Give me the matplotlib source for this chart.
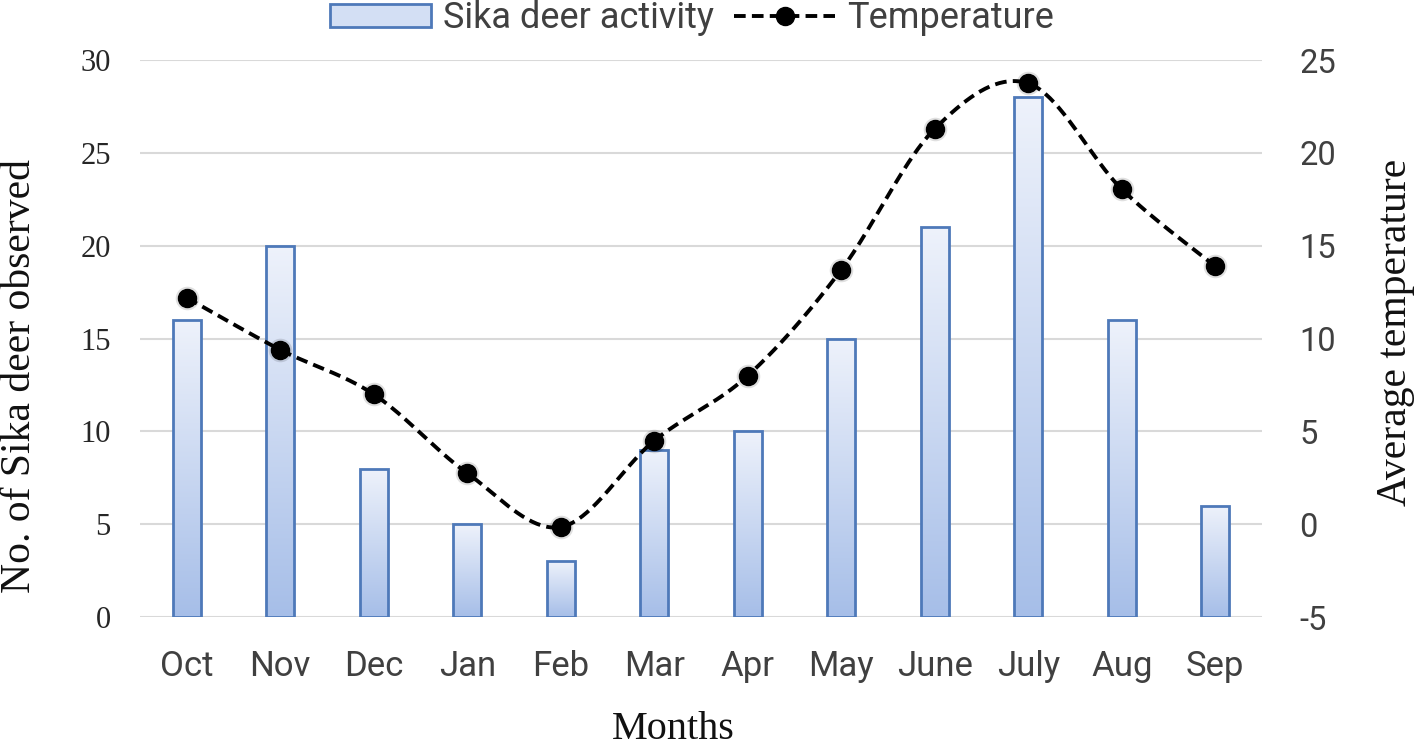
import numpy as np
import matplotlib
matplotlib.use("Agg")
import matplotlib.pyplot as plt
from matplotlib.patches import Rectangle
from matplotlib.lines import Line2D
from matplotlib.colors import LinearSegmentedColormap

months = ["Oct", "Nov", "Dec", "Jan", "Feb", "Mar", "Apr", "May", "June", "July", "Aug", "Sep"]
deer = [16, 20, 8, 5, 3, 9, 10, 15, 21, 28, 16, 6]
temperature = [12.2, 9.4, 7.0, 2.75, -0.15, 4.5, 8.0, 13.7, 21.3, 23.75, 18.05, 13.9]

serif = "Liberation Serif"
sans = "Roboto"

fig = plt.figure(figsize=(14.18, 7.52), dpi=100)
ax = fig.add_axes([0.0987, 0.1795, 0.7913, 0.7405])
ax2 = ax.twinx()

x = np.arange(len(months))
bar_w = 0.3
grad = LinearSegmentedColormap.from_list("g", ["#a6bee8", "#eef2fb"])
img = np.linspace(0, 1, 256).reshape(-1, 1)

# gradient bars
for xi, v in zip(x, deer):
    rect = Rectangle((xi - bar_w / 2, 0), bar_w, v, facecolor="none",
                     edgecolor="#4e79b9", linewidth=2.0, zorder=3)
    ax.add_patch(rect)
    im = ax.imshow(img, extent=[xi - bar_w / 2, xi + bar_w / 2, 0, v],
                   origin="lower", aspect="auto", cmap=grad, zorder=2)
    im.set_clip_path(rect)

ax.set_xlim(-0.5, len(months) - 0.5)
ax.set_ylim(0, 30)
ax.set_yticks(range(0, 31, 5))
ax.set_xticks(x)
ax.set_xticklabels(months, fontfamily=sans, fontsize=25, color="#404040")
ax.tick_params(axis="x", length=0, pad=24)
ax.tick_params(axis="y", length=0, pad=21)
for lab in ax.get_yticklabels():
    lab.set_fontfamily(serif)
    lab.set_fontsize(22)
    lab.set_color("#262626")
ax.yaxis.grid(True, color="#d9d9d9", linewidth=1.5)
ax.set_axisbelow(True)
for s in ax.spines.values():
    s.set_visible(False)

# smoothed temperature line (Excel-style bezier through the points)
pts = np.column_stack([x, temperature]).astype(float)
ext = np.vstack([pts[0], pts, pts[-1]])
curve = []
t = np.linspace(0, 1, 40)[:, None]
for i in range(len(pts) - 1):
    p0, p3 = ext[i + 1], ext[i + 2]
    p1 = p0 + (ext[i + 2] - ext[i]) / 6
    p2 = p3 - (ext[i + 3] - ext[i + 1]) / 6
    seg = ((1 - t) ** 3) * p0 + 3 * ((1 - t) ** 2) * t * p1 + 3 * (1 - t) * t ** 2 * p2 + t ** 3 * p3
    curve.append(seg if i == 0 else seg[1:])
curve = np.vstack(curve)
ax2.plot(curve[:, 0], curve[:, 1], color="black", linewidth=2.8,
         linestyle=(0, (3.0, 1.6)), zorder=4)
# soft shadow behind markers, then the markers
ax2.plot(x, temperature, "o", color="black", alpha=0.12, markersize=17, markeredgewidth=0, zorder=5)
ax2.plot(x, temperature, "o", color="black", markersize=13, zorder=6)

ax2.set_ylim(-5, 25)
ax2.set_yticks(range(-5, 26, 5))
ax2.set_yticklabels([str(v) for v in range(-5, 26, 5)], fontfamily=sans,
                    fontsize=23.5, color="#404040")
ax2.tick_params(axis="y", length=0, pad=27)
for s in ax2.spines.values():
    s.set_visible(False)

fig.text(0.0141, 0.50, "No. of Sika deer observed", rotation=90, ha="center", va="center",
         fontfamily=serif, fontsize=30, color="#111111")
fig.text(0.984, 0.558, "Average temperature", rotation=90, ha="center", va="center",
         fontfamily=serif, fontsize=30, color="#111111")
fig.text(0.475, 0.03, "Months", ha="center", va="center",
         fontfamily=serif, fontsize=29, color="#111111")

handles = [Rectangle((0, 0), 1, 1, facecolor="#d3dff4", edgecolor="#4e79b9", linewidth=2.0),
           Line2D([], [], color="black", linewidth=2.8, linestyle=(0, (3.0, 1.6)),
                  marker="o", markersize=13)]
fig.legend(handles, ["Sika deer activity", "Temperature"], loc="center",
           bbox_to_anchor=(0.488, 0.976), ncol=2, frameon=False,
           prop={"family": sans, "size": 26}, handlelength=2.8, handleheight=0.6,
           columnspacing=0.55, handletextpad=0.33, labelcolor="#404040")

fig.savefig("out.png", dpi=100)
